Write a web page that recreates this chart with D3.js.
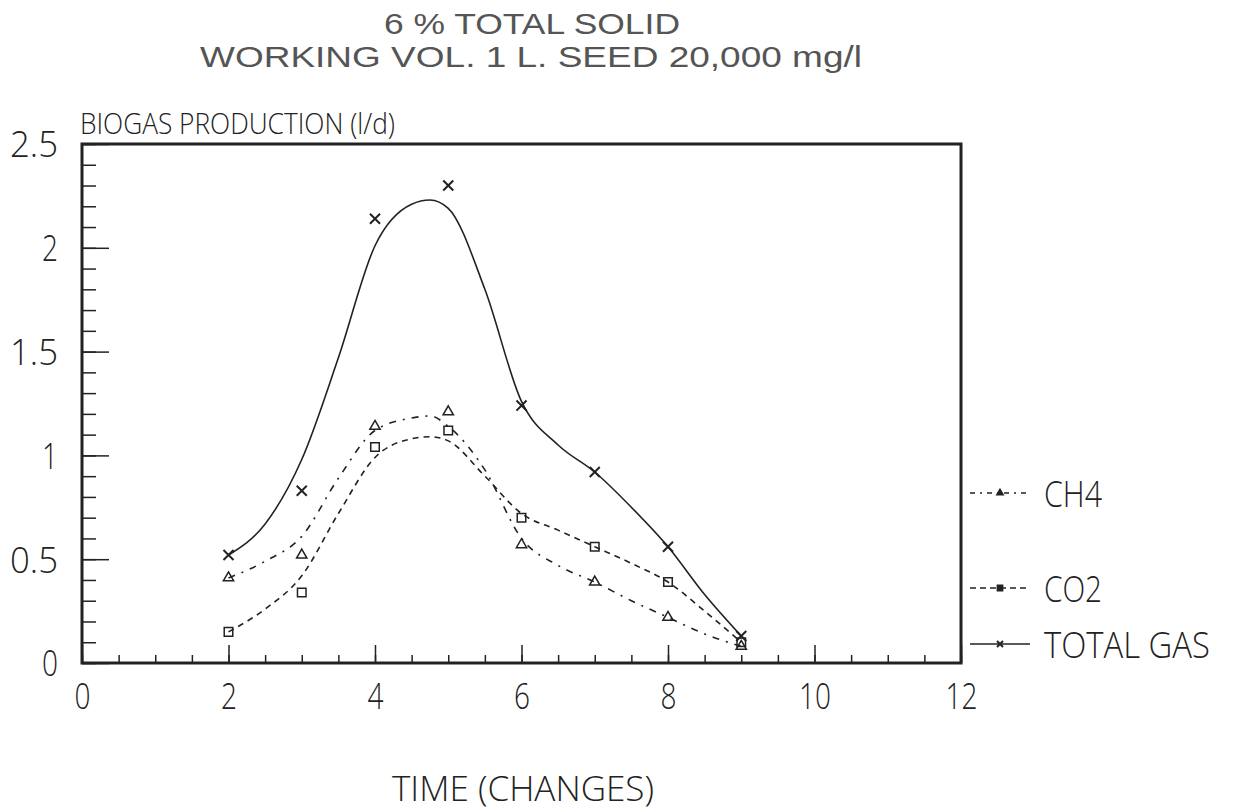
<!DOCTYPE html>
<html>
<head>
<meta charset="utf-8">
<script src="https://cdn.jsdelivr.net/npm/d3@7"></script>
<style>
  body{margin:0;background:#fff;}
  svg text{font-family:"Open Sans","DejaVu Sans",sans-serif;font-weight:300;fill:#222;}
  svg text.title{font-family:"Liberation Sans",Arial,sans-serif;font-weight:400;fill:#555;}
</style>
</head>
<body>
<div id="chart"></div>
<script>
// measured points
const times = [2,3,4,5,6,7,8,9]
const ch4   = [0.41,0.52,1.14,1.21,0.57,0.39,0.22,0.08]
const co2   = [0.15,0.34,1.04,1.12,0.70,0.56,0.39,0.10]
const total = [0.52,0.83,2.14,2.30,1.24,0.92,0.56,0.13]
// hand drawn fitted curves
const curveT   = [2,2.5,3,3.5,4,4.5,4.75,5,5.5,6,6.5,7,7.5,8,8.5,9]
const ch4Fit   = [0.41,0.49,0.61,0.89,1.12,1.18,1.19,1.14,0.93,0.60,0.47,0.39,0.30,0.22,0.14,0.08]
const co2Fit   = [0.15,0.26,0.42,0.72,0.99,1.08,1.09,1.07,0.90,0.72,0.64,0.56,0.48,0.39,0.25,0.10]
const totalFit = [0.52,0.67,0.98,1.47,2.01,2.21,2.23,2.19,1.80,1.26,1.05,0.92,0.75,0.56,0.33,0.13]
const titleLines = ["6 % TOTAL SOLID","WORKING VOL. 1 L. SEED 20,000 mg/l"]
const xTicks = [0,2,4,6,8,10,12]
const yTicks = [0,0.5,1,1.5,2,2.5]
const yTickLabels = ["0","0.5","1","1.5","2","2.5"]

const margin = {top:144, right:273, bottom:149, left:82},
      width  = 1234 - margin.left - margin.right,
      height = 812 - margin.top - margin.bottom
const ink = "#222"

const x = d3.scaleLinear().domain([0,12]).range([0,width])
const y = d3.scaleLinear().domain([0,2.5]).range([height,0])

const svg = d3.select("#chart")
  .append("svg")
    .attr("width",1234)
    .attr("height",812)
const g = svg.append("g")
    .attr("transform","translate(" + margin.left + "," + margin.top + ")")

function fit(sel, w){
  sel.attr("textLength", w).attr("lengthAdjust","spacingAndGlyphs")
}

// titles
svg.append("text").attr("class","title").attr("x",532).attr("y",34).attr("text-anchor","middle")
  .style("font-size","29px").text(titleLines[0]).call(fit,296)
svg.append("text").attr("class","title").attr("x",531).attr("y",67).attr("text-anchor","middle")
  .style("font-size","29px").text(titleLines[1]).call(fit,662)
svg.append("text").attr("x",80).attr("y",134)
  .style("font-size","30px").text("BIOGAS PRODUCTION (l/d)").call(fit,315)
svg.append("text").attr("x",523).attr("y",801).attr("text-anchor","middle")
  .style("font-size","34px").text("TIME (CHANGES)").call(fit,262)

// minor ticks
g.append("g")
  .attr("transform","translate(0," + height + ")")
  .call(d3.axisBottom(x).tickValues(d3.range(0,12.01,0.5)).tickSize(-8).tickFormat(''))
g.append("g")
  .call(d3.axisLeft(y).tickValues(d3.range(0,2.51,0.1)).tickSize(-14).tickFormat(''))
// major ticks + labels
const xAxis = g.append("g")
  .attr("transform","translate(0," + height + ")")
  .call(d3.axisBottom(x).tickValues(xTicks).tickSize(-18).tickPadding(20))
const yAxis = g.append("g")
  .call(d3.axisLeft(y).tickValues(yTicks).tickSize(-27).tickPadding(24)
    .tickFormat((d,i)=>yTickLabels[i]))
xAxis.selectAll("text").style("font-size","36px").attr("fill",ink)
  .each(function(d){ fit(d3.select(this), String(d).length*16) })
yAxis.selectAll("text").style("font-size","36px").attr("fill",ink).attr("dy","0.36em")
  .each(function(d,i){ fit(d3.select(this), yTickLabels[i].length*16) })
g.selectAll(".tick line").attr("stroke",ink).attr("stroke-width",1.5)
g.selectAll(".domain").attr("stroke","none")

// frame
g.append("rect").attr("width",width).attr("height",height)
  .attr("fill","none").attr("stroke",ink).attr("stroke-width",3)

// series
const series = [
  {name:"CH4", vals:ch4, fit:ch4Fit, dash:"7,7,2,7", mark:"tri"},
  {name:"CO2", vals:co2, fit:co2Fit, dash:"6,5", mark:"sq"},
  {name:"TOTAL GAS", vals:total, fit:totalFit, dash:null, mark:"x"}
]
const line = d3.line().x(d=>x(d[0])).y(d=>y(d[1])).curve(d3.curveMonotoneX)

function drawMark(sel, type, size){
  if(type=="tri") sel.append("path").attr("d",d3.symbol(d3.symbolTriangle2, size*size*0.45)).attr("fill","none").attr("stroke",ink).attr("stroke-width",1.5)
  else if(type=="sq") sel.append("path").attr("d",d3.symbol(d3.symbolSquare2, size*size*0.55)).attr("fill","none").attr("stroke",ink).attr("stroke-width",1.5)
  else sel.append("path").attr("d",d3.symbol(d3.symbolX, size*size*0.4)).attr("fill","none").attr("stroke",ink).attr("stroke-width",2)
}

series.forEach(s=>{
  g.append("path")
    .datum(curveT.map((t,i)=>[t,s.fit[i]]))
    .attr("d",line)
    .attr("fill","none")
    .attr("stroke",ink)
    .attr("stroke-width",1.6)
    .attr("stroke-dasharray",s.dash)
  g.selectAll(null)
    .data(times.map((t,i)=>[t,s.vals[i]]))
    .enter()
    .append("g")
    .attr("transform",d=>"translate(" + x(d[0]) + "," + y(d[1]) + ")")
    .each(function(){ drawMark(d3.select(this), s.mark, 13) })
})

// legend
const legendY = [493,588,644]
series.forEach((s,i)=>{
  const lg = svg.append("g").attr("transform","translate(970," + legendY[i] + ")")
  lg.append("line").attr("x1",0).attr("x2",60).attr("stroke",ink).attr("stroke-width",1.6)
    .attr("stroke-dasharray", s.dash ? (s.mark=="tri" ? "5,5,2,5" : "6,4") : null)
  const m = lg.append("g").attr("transform","translate(30,0)")
  drawMark(m, s.mark, 8)
  m.select("path").attr("fill", s.mark=="x" ? "none" : ink)
  lg.append("text").attr("x",74).attr("y",14).style("font-size","36px")
    .text(s.name).call(fit, s.name=="TOTAL GAS" ? 166 : 58)
})
</script>
</body>
</html>
